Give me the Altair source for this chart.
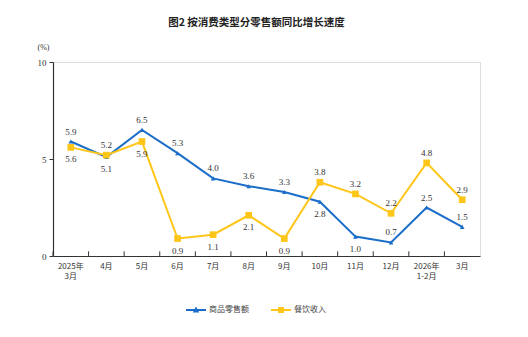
import altair as alt
import pandas as pd

months = ["2025年|3月", "4月", "5月", "6月", "7月", "8月", "9月", "10月", "11月", "12月", "2026年|1-2月", "3月"]
series_names = ["商品零售额", "餐饮收入"]
retail = [5.9, 5.1, 6.5, 5.3, 4.0, 3.6, 3.3, 2.8, 1.0, 0.7, 2.5, 1.5]
catering = [5.6, 5.2, 5.9, 0.9, 1.1, 2.1, 0.9, 3.8, 3.2, 2.2, 4.8, 2.9]
retail_label_above = [True, False, True, True, True, True, True, False, False, True, True, True]
catering_label_above = [False, True, False, False, False, False, False, True, True, True, True, True]

colors = ["#1A6DC8", "#FFC61A"]
cjk = "Noto Sans CJK SC"
serif = "Liberation Serif"

rows = []
for name, vals, ab in [(series_names[0], retail, retail_label_above), (series_names[1], catering, catering_label_above)]:
    for m, v, a in zip(months, vals, ab):
        rows.append({"month": m, "series": name, "value": v, "above": a})
df = pd.DataFrame(rows)

blue_path = "M-1,-0.1H1V0.1H-1Z M0,-0.36L0.33,0.26H-0.33Z"
yellow_path = "M-1,-0.1H1V0.1H-1Z M-0.3,-0.3H0.3V0.3H-0.3Z"

color_scale = alt.Scale(domain=series_names, range=colors)
legend = alt.Legend(orient="none", legendX=133, legendY=238, direction="horizontal", title=None,
                    labelFont=cjk, labelFontSize=8, labelColor="#444", symbolSize=400,
                    columnPadding=22, labelOffset=3, symbolOpacity=1, symbolStrokeWidth=0)
color = alt.Color("series:N", scale=color_scale, legend=legend)

x_axis = alt.Axis(labelAngle=0, labelExpr="split(datum.value, '|')", labelFont=cjk, labelFontSize=8,
                  labelColor="#333", domainColor="#333", domainWidth=1.2, ticks=False,
                  labelPadding=6, labelLineHeight=10)
x_scale = alt.Scale(paddingInner=0, paddingOuter=0)
x = alt.X("month:N", sort=months, title=None, scale=x_scale, axis=x_axis)
y_scale = alt.Scale(domain=[0, 10])
y = alt.Y("value:Q", scale=y_scale,
          axis=alt.Axis(values=[0, 5, 10], title="(%)", titleAngle=0, titleX=-10, titleY=-15,
                        titleFont=serif, titleFontSize=8, titleFontWeight="normal", titleColor="#333",
                        titleAlign="center", titleBaseline="middle",
                        labelFont=serif, labelFontSize=9, labelColor="#333", grid=False,
                        domainColor="#333", domainWidth=1.2, tickColor="#333", tickSize=4, labelPadding=3))

base = alt.Chart(df)
lines = base.mark_line(strokeWidth=2).encode(x=x, y=y, color=color, order=alt.Order("series:N"))
tri = base.transform_filter(alt.datum.series == series_names[0]).mark_point(
    filled=True, opacity=1, shape="triangle-up", size=22).encode(x=x, y=y, color=color)
sq = base.transform_filter(alt.datum.series == series_names[1]).mark_point(
    filled=True, opacity=1, shape="square", size=45).encode(x=x, y=y, color=color)
text_above = base.transform_filter("datum.above").mark_text(
    dy=-10, font=serif, fontSize=9, color="#333").encode(x=x, y=y, text=alt.Text("value:Q", format=".1f"))
text_below = base.transform_filter("!datum.above").mark_text(
    dy=12, font=serif, fontSize=9, color="#333").encode(x=x, y=y, text=alt.Text("value:Q", format=".1f"))

# x-axis ticks at the month boundaries, pointing into the plot
ticks = alt.Chart(pd.DataFrame({"month": months})).mark_rule(color="#333", strokeWidth=1).encode(
    x=alt.X("month:N", sort=months, title=None, scale=x_scale, axis=x_axis, bandPosition=0),
    y=alt.datum(0, scale=y_scale), y2=alt.datum(0.24))

legend_layer = base.mark_point(filled=True, opacity=0).encode(
    x=x, y=y, color=color,
    shape=alt.Shape("series:N", scale=alt.Scale(domain=series_names, range=[blue_path, yellow_path]), legend=legend))

chart = alt.layer(lines, tri, sq, text_above, text_below, ticks, legend_layer).properties(
    width=427, height=194,
    title=alt.Title("图2  按消费类型分零售额同比增长速度", font=cjk, fontSize=10.5, fontWeight="bold",
                    color="#222", anchor="middle", offset=15, dx=-10),
    autosize=alt.AutoSizeParams(type="none"),
    padding={"left": 53, "top": 62, "right": 48, "bottom": 81},
).configure_view(stroke="#9a9a9a", strokeWidth=1).configure(background="white")

chart.save("out.html", embed_options={"renderer": "svg", "actions": False})
